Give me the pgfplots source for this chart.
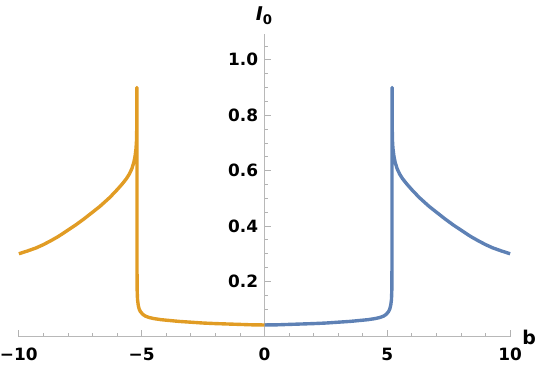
\documentclass[border=0pt]{standalone}
\usepackage{fontspec}
\setmainfont{DejaVu Sans}
\usepackage{pgfplots}
\pgfplotsset{compat=1.18}

\definecolor{mmablue}{HTML}{5E81B5}
\definecolor{mmaorange}{HTML}{E19C24}

\begin{document}
\begin{tikzpicture}
\begin{axis}[
  scale only axis,
  width=246.5pt, height=152pt,
  xmin=-10, xmax=10, ymin=0, ymax=1.093,
  axis lines=middle,
  axis line style={draw=black!28, line width=0.5pt, -},
  clip=false,
  hide obscured x ticks=false,
  hide obscured y ticks=false,
  xtick={-10,-5,0,5,10},
  xticklabels={−10,−5,0,5,10},
  minor xtick={-9,-8,-7,-6,-4,-3,-2,-1,1,2,3,4,6,7,8,9},
  ytick={0.2,0.4,0.6,0.8,1.0},
  yticklabels={0.2,0.4,0.6,0.8,1.0},
  minor ytick={0.05,0.1,0.15,0.25,0.3,0.35,0.45,0.5,0.55,0.65,0.7,0.75,0.85,0.9,0.95,1.05},
  tick align=inside,
  major tick length=3.5pt,
  minor tick length=2pt,
  tick style={draw=black!30, line width=0.4pt},
  ticklabel style={font=\fontsize{8.5}{10}\selectfont\bfseries, text=black, inner sep=0pt},
  xticklabel style={yshift=-5.5pt},
  yticklabel style={xshift=-3pt},
  xlabel={b},
  ylabel={\textit{I}\textsubscript{\upshape 0}},
  every axis x label/.style={at={(axis description cs:1,0)}, anchor=west, inner sep=0pt,
    xshift=6pt, yshift=-0.5pt, font=\fontsize{9.5}{10}\selectfont\bfseries},
  every axis y label/.style={at={(axis description cs:0.5,1)}, anchor=south, inner sep=0pt,
    yshift=4.5pt, font=\fontsize{9.5}{10}\selectfont\bfseries},
]
% b > 0 branch
\addplot[mmablue, line width=1.7pt, line join=round] coordinates {
  (0,0.043) (0.5,0.0435) (1,0.045) (1.5,0.0465) (2,0.048) (2.5,0.050) (3,0.053)
  (3.5,0.056) (3.85,0.059) (4.2,0.062) (4.5,0.066) (4.7,0.070) (4.85,0.075)
  (4.95,0.081) (5.05,0.091) (5.1,0.100) (5.14,0.114) (5.17,0.135) (5.185,0.17)
  (5.19,0.25) (5.195,0.90) (5.2,0.76) (5.21,0.71) (5.23,0.68) (5.27,0.652)
  (5.32,0.630) (5.4,0.607) (5.5,0.588) (5.62,0.571) (5.8,0.551) (6.0,0.531)
  (6.3,0.503) (6.7,0.471) (7.0,0.450) (7.36,0.425) (7.7,0.403) (8.04,0.383)
  (8.4,0.362) (8.7,0.347) (9.0,0.333) (9.3,0.321) (9.65,0.310) (10,0.300)
};
% b < 0 branch
\addplot[mmaorange, line width=1.7pt, line join=round] coordinates {
  (0,0.043) (-0.5,0.0435) (-1,0.045) (-1.5,0.0465) (-2,0.048) (-2.5,0.050) (-3,0.053)
  (-3.5,0.056) (-3.85,0.059) (-4.2,0.062) (-4.5,0.066) (-4.7,0.070) (-4.85,0.075)
  (-4.95,0.081) (-5.05,0.091) (-5.1,0.100) (-5.14,0.114) (-5.17,0.135) (-5.185,0.17)
  (-5.19,0.25) (-5.195,0.90) (-5.2,0.76) (-5.21,0.71) (-5.23,0.68) (-5.27,0.652)
  (-5.32,0.630) (-5.4,0.607) (-5.5,0.588) (-5.62,0.571) (-5.8,0.551) (-6.0,0.531)
  (-6.3,0.503) (-6.7,0.471) (-7.0,0.450) (-7.36,0.425) (-7.7,0.403) (-8.04,0.383)
  (-8.4,0.362) (-8.7,0.347) (-9.0,0.333) (-9.3,0.321) (-9.65,0.310) (-10,0.300)
};
\end{axis}
\path (current bounding box.north) ++(0,3.5pt);
\path (current bounding box.south) ++(0,-2pt);
\end{tikzpicture}
\end{document}
